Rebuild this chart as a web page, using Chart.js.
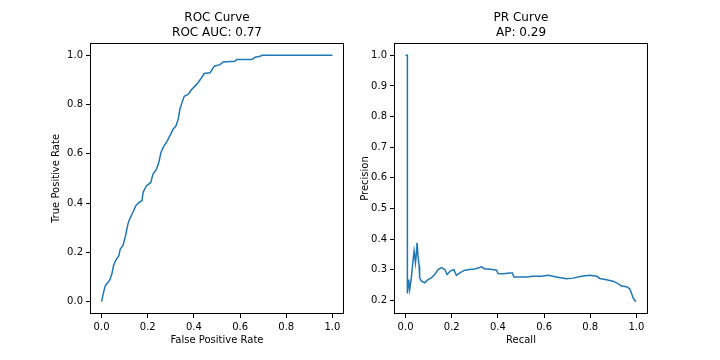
<!DOCTYPE html>
<html>
<head>
<meta charset="utf-8">
<script src="https://cdn.jsdelivr.net/npm/chart.js@4.4.1/dist/chart.umd.min.js"></script>
<style>
  html, body { margin: 0; padding: 0; background: #ffffff; }
  #wrap { position: relative; width: 720px; height: 360px; overflow: hidden; background: #fff; }
  canvas { position: absolute; top: 0; }
</style>
</head>
<body>
<div id="wrap">
  <canvas id="roc" width="350" height="360" style="left:0px;width:350px;height:360px"></canvas>
  <canvas id="pr" width="370" height="360" style="left:350px;width:370px;height:360px"></canvas>
</div>
<script>
// ---- ROC curve data ----
const rocFpr = [0.0, 0.009, 0.017, 0.035, 0.045, 0.052, 0.061, 0.075, 0.081, 0.093, 0.104, 0.114, 0.122, 0.136, 0.148, 0.162, 0.175, 0.180, 0.194, 0.213, 0.223, 0.238, 0.248, 0.257, 0.267, 0.284, 0.299, 0.310, 0.322, 0.332, 0.339, 0.348, 0.358, 0.375, 0.390, 0.412, 0.433, 0.445, 0.470, 0.488, 0.513, 0.527, 0.578, 0.586, 0.651, 0.665, 0.687, 0.694, 1.0];
const rocTpr = [0.0, 0.039, 0.066, 0.086, 0.113, 0.147, 0.167, 0.187, 0.214, 0.228, 0.268, 0.315, 0.336, 0.363, 0.389, 0.403, 0.410, 0.444, 0.470, 0.484, 0.518, 0.538, 0.565, 0.605, 0.626, 0.652, 0.679, 0.700, 0.713, 0.740, 0.780, 0.807, 0.834, 0.841, 0.861, 0.882, 0.909, 0.926, 0.929, 0.956, 0.962, 0.973, 0.976, 0.983, 0.983, 0.992, 0.996, 1.0, 1.0];

// ---- PR curve data ----
const prRecall = [0.0, 0.008, 0.008, 0.014, 0.018, 0.025, 0.033, 0.037, 0.043, 0.047, 0.050, 0.054, 0.059, 0.061, 0.069, 0.083, 0.097, 0.112, 0.126, 0.141, 0.155, 0.170, 0.180, 0.194, 0.209, 0.220, 0.235, 0.256, 0.278, 0.300, 0.318, 0.329, 0.343, 0.357, 0.376, 0.394, 0.401, 0.422, 0.451, 0.463, 0.469, 0.495, 0.524, 0.552, 0.589, 0.617, 0.653, 0.697, 0.725, 0.762, 0.798, 0.829, 0.841, 0.870, 0.899, 0.920, 0.935, 0.957, 0.971, 0.978, 0.985, 0.997];
const prPrecision = [1.0, 1.0, 0.223, 0.268, 0.236, 0.274, 0.334, 0.361, 0.323, 0.356, 0.388, 0.344, 0.312, 0.274, 0.263, 0.258, 0.268, 0.274, 0.285, 0.301, 0.307, 0.301, 0.285, 0.296, 0.301, 0.282, 0.290, 0.299, 0.301, 0.303, 0.307, 0.310, 0.303, 0.303, 0.301, 0.299, 0.288, 0.287, 0.290, 0.290, 0.277, 0.277, 0.277, 0.279, 0.279, 0.282, 0.277, 0.271, 0.273, 0.279, 0.282, 0.279, 0.272, 0.268, 0.263, 0.255, 0.247, 0.245, 0.238, 0.225, 0.209, 0.196];

// ---- tick labels / titles ----
const unitTicks = [0.0, 0.2, 0.4, 0.6, 0.8, 1.0];
const precisionTicks = [0.2, 0.3, 0.4, 0.5, 0.6, 0.7, 0.8, 0.9, 1.0];
const rocTitle = ['ROC Curve', 'ROC AUC: 0.77'];
const prTitle = ['PR Curve', 'AP: 0.29'];
const rocXLabel = 'False Positive Rate';
const rocYLabel = 'True Positive Rate';
const prXLabel = 'Recall';
const prYLabel = 'Precision';

const FONT = 'DejaVu Sans';
const LINE = '#1f77b4';

const frame = {
  id: 'frame',
  afterDraw(chart) {
    const a = chart.chartArea, ctx = chart.ctx;
    ctx.save();
    ctx.strokeStyle = '#000';
    ctx.lineWidth = 1;
    ctx.strokeRect(Math.round(a.left) + 0.5, Math.round(a.top) + 0.5,
                   Math.round(a.right - a.left) - 1, Math.round(a.bottom - a.top) - 1);
    ctx.restore();
  }
};

function makeChart(id, xs, ys, title, xLabel, yLabel, yTicks, yMin, yMax, pad, yWidth) {
  const pts = xs.map((x, i) => ({ x: x, y: ys[i] }));
  const tickFont = { family: FONT, size: 10 };
  return new Chart(document.getElementById(id), {
    type: 'scatter',
    data: { datasets: [{ data: pts, showLine: true, borderColor: LINE, borderWidth: 1.5,
                         pointRadius: 0, fill: false, tension: 0 }] },
    plugins: [frame],
    options: {
      responsive: false, animation: false, devicePixelRatio: 1,
      layout: { padding: pad },
      plugins: {
        legend: { display: false }, tooltip: { enabled: false },
        title: { display: true, text: title, fullSize: false, color: '#000',
                 font: { family: FONT, size: 12, weight: 'normal', lineHeight: 1.2 },
                 padding: { top: 11, bottom: 3.2 } }
      },
      scales: {
        x: {
          type: 'linear', min: -0.05, max: 1.05,
          afterBuildTicks: s => { s.ticks = unitTicks.map(v => ({ value: v })); },
          afterFit: s => { s.height = 32; },
          ticks: { autoSkip: false, maxRotation: 0, color: '#000', font: tickFont, padding: 3,
                   callback: v => Number(v).toFixed(1) },
          grid: { drawOnChartArea: false, drawTicks: true, tickLength: 4, tickColor: '#000', tickWidth: 1 },
          border: { display: false },
          title: { display: true, text: xLabel, color: '#000', font: { family: FONT, size: 10, lineHeight: 1.2 },
                   padding: { top: 0, bottom: 0 } }
        },
        y: {
          type: 'linear', min: yMin, max: yMax,
          afterBuildTicks: s => { s.ticks = yTicks.map(v => ({ value: v })); },
          afterFit: s => { s.width = yWidth; },
          ticks: { autoSkip: false, color: '#000', font: tickFont, padding: 3,
                   callback: v => Number(v).toFixed(1) },
          grid: { drawOnChartArea: false, drawTicks: true, tickLength: 4, tickColor: '#000', tickWidth: 1 },
          border: { display: false },
          title: { display: true, text: yLabel, color: '#000', font: { family: FONT, size: 10, lineHeight: 1.2 },
                   padding: { top: 0, bottom: 0 } }
        }
      }
    }
  });
}

makeChart('roc', rocFpr, rocTpr, rocTitle, rocXLabel, rocYLabel, unitTicks, -0.05, 1.05,
          { left: 50, right: 6, top: 0, bottom: 14 }, 40);
makeChart('pr', prRecall, prPrecision, prTitle, prXLabel, prYLabel, precisionTicks, 0.156, 1.04,
          { left: 9, right: 72, top: 0, bottom: 14 }, 35);
</script>
</body>
</html>
